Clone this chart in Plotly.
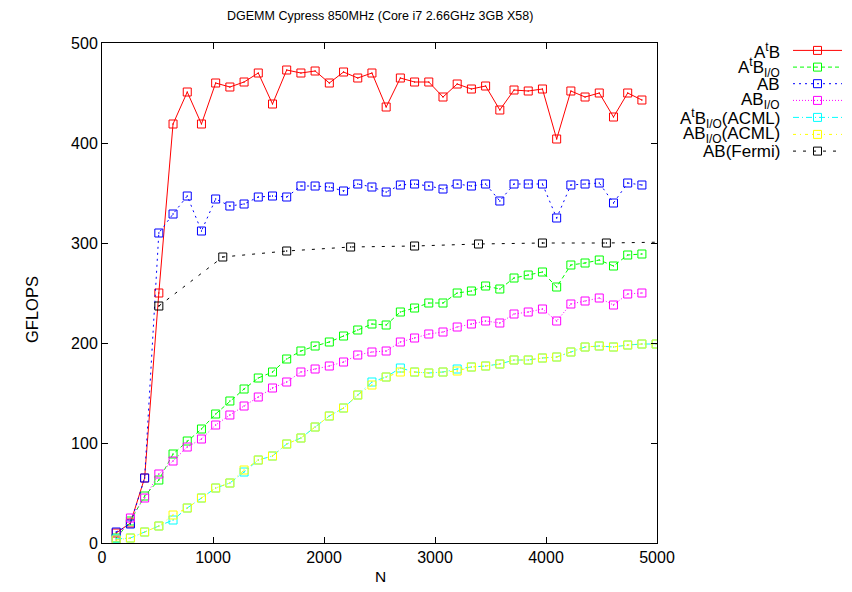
import plotly.graph_objects as go

# ---------------- data ----------------
N = [128, 256, 384, 512, 640, 768, 896, 1024, 1152, 1280, 1408, 1536, 1664, 1792,
     1920, 2048, 2176, 2304, 2432, 2560, 2688, 2816, 2944, 3072, 3200, 3328, 3456,
     3584, 3712, 3840, 3968, 4096, 4224, 4352, 4480, 4608, 4736, 4864]
N_acml = N + [4992]
N_fermi = [512, 1088, 1664, 2240, 2816, 3392, 3968, 4544, 5120]

atb = [10, 20, 65, 250, 419, 451, 419, 460, 456, 461, 470, 439, 473, 470, 472, 460,
       471, 465, 470, 436, 465, 461, 461, 446, 459, 454, 457, 433, 453, 452, 454, 404,
       452, 446, 450, 426, 450, 443]
atb_io = [5, 22, 47, 63, 89, 102, 114, 129, 142, 154, 165, 171, 184, 192, 197, 201,
          207, 213, 219, 218, 231, 235, 240, 240, 250, 252, 257, 254, 265, 268, 271,
          256, 278, 280, 283, 277, 288, 289]
ab = [11, 19, 65, 310, 329, 347, 312, 344, 337, 339, 346, 347, 346, 357, 357, 356,
      352, 359, 356, 351, 358, 359, 357, 354, 359, 357, 359, 342, 359, 359, 359, 325,
      358, 359, 360, 340, 360, 358]
ab_io = [3, 25, 45, 69, 82, 96, 104, 118, 128, 137, 146, 155, 161, 171, 174, 177, 181,
         188, 191, 192, 201, 205, 209, 211, 216, 219, 222, 220, 229, 231, 234, 222, 239,
         242, 245, 238, 249, 250]
atb_io_acml = [4, 5, 11, 17, 23, 35, 45, 55, 60, 71, 83, 87, 99, 105, 116, 127, 135,
               148, 161, 166, 175, 171, 170, 171, 174, 176, 177, 179, 183, 183, 185, 186,
               191, 196, 197, 196, 198, 199, 199]
ab_io_acml = [3, 5, 11, 17, 28, 35, 45, 55, 60, 73, 83, 87, 99, 105, 116, 127, 135, 148,
              158, 166, 171, 171, 170, 171, 172, 176, 177, 179, 183, 183, 185, 186, 191,
              196, 197, 196, 198, 199, 199]
ab_fermi = [237, 286, 292, 296, 297, 299, 300, 300, 301]

labels = ["A<sup>t</sup>B", "A<sup>t</sup>B<sub>I/O</sub>", "AB", "AB<sub>I/O</sub>",
          "A<sup>t</sup>B<sub>I/O</sub>(ACML)", "AB<sub>I/O</sub>(ACML)", "AB(Fermi)"]
x_ticks = [0, 1000, 2000, 3000, 4000, 5000]
y_ticks = [0, 100, 200, 300, 400, 500]

# ---------------- styles ----------------
series = [
    (N, atb, "#ff0000", "solid"),
    (N, atb_io, "#00ff00", "4px,3px"),
    (N, ab, "#0000ff", "2px,4px"),
    (N, ab_io, "#ff00ff", "1px,2px"),
    (N_acml, atb_io_acml, "#00ffff", "6px,3px,1px,3px"),
    (N_acml, ab_io_acml, "#ffff00", "3px,4px,1px,4px"),
    (N_fermi, ab_fermi, "#000000", "3px,7px"),
]

FONT = "Liberation Sans, Arial, sans-serif"

fig = go.Figure()
for (xs, ys, col, dash), lab in zip(series, labels):
    fig.add_trace(go.Scatter(
        x=xs, y=ys, mode="lines+markers", name=lab, showlegend=False,
        line=dict(color=col, width=1, dash=dash),
        marker=dict(symbol="square-open-dot", size=8, color=col, line=dict(width=1, color=col)),
    ))

# page body has an 8px margin: work in window pixels, shift by OFF
OFF = 8
FW, FH = 852 - 2 * OFF, 592 - 2 * OFF
L, R, T, B = 102 - OFF, 657 - OFF, 43 - OFF, 543 - OFF
W, H = R - L, B - T
def px_x(p):
    return (p - OFF - L) / W
def px_y(p):
    return (B - (p - OFF)) / H

row_y = [51.0, 67.7, 84.3, 101.0, 118.0, 135.0, 151.7]
annotations = []
shapes = []
for (xs, ys, col, dash), lab, yy in zip(series, labels, row_y):
    annotations.append(dict(
        x=px_x(782), y=px_y(yy), xref="paper", yref="paper", text=lab, showarrow=False,
        xanchor="right", yanchor="middle", font=dict(family=FONT, size=17, color="black")))
    shapes.append(dict(type="line", xref="paper", yref="paper",
                       x0=px_x(793), x1=px_x(842), y0=px_y(yy - 0.6), y1=px_y(yy - 0.6),
                       line=dict(color=col, width=1, dash=dash)))
    shapes.append(dict(type="rect", xref="paper", yref="paper",
                       xsizemode="pixel", ysizemode="pixel",
                       xanchor=px_x(817.5), yanchor=px_y(yy - 0.6),
                       x0=-4, x1=4, y0=-4, y1=4,
                       line=dict(color=col, width=1), fillcolor="rgba(0,0,0,0)"))

annotations.append(dict(x=px_x(32), y=px_y(310), xref="paper", yref="paper", text="GFLOPS",
                        textangle=-90, showarrow=False, xanchor="center", yanchor="middle",
                        font=dict(family=FONT, size=16.5, color="black")))
annotations.append(dict(x=px_x(380), y=px_y(576), xref="paper", yref="paper", text="N",
                        showarrow=False, xanchor="center", yanchor="middle",
                        font=dict(family=FONT, size=15.5, color="black")))
annotations.append(dict(x=px_x(379.5), y=px_y(16), xref="paper", yref="paper",
                        text="DGEMM Cypress 850MHz (Core i7 2.66GHz 3GB X58)",
                        showarrow=False, xanchor="center", yanchor="middle",
                        font=dict(family=FONT, size=12.5, color="black")))

axis_common = dict(showline=True, linecolor="black", linewidth=1, mirror="ticks",
                   ticks="inside", ticklen=6, tickcolor="black", tickwidth=1,
                   showgrid=False, zeroline=False,
                   tickfont=dict(family=FONT, size=16, color="black"))

fig.update_layout(
    width=FW, height=FH,
    margin=dict(l=L, r=FW - R, t=T, b=FH - B, autoexpand=False),
    plot_bgcolor="white", paper_bgcolor="white",
    xaxis=dict(range=[0, 5000], tickvals=x_ticks, **axis_common),
    yaxis=dict(range=[0, 500], tickvals=y_ticks, **axis_common),
    annotations=annotations, shapes=shapes, showlegend=False,
)
fig.write_html("out.html")
